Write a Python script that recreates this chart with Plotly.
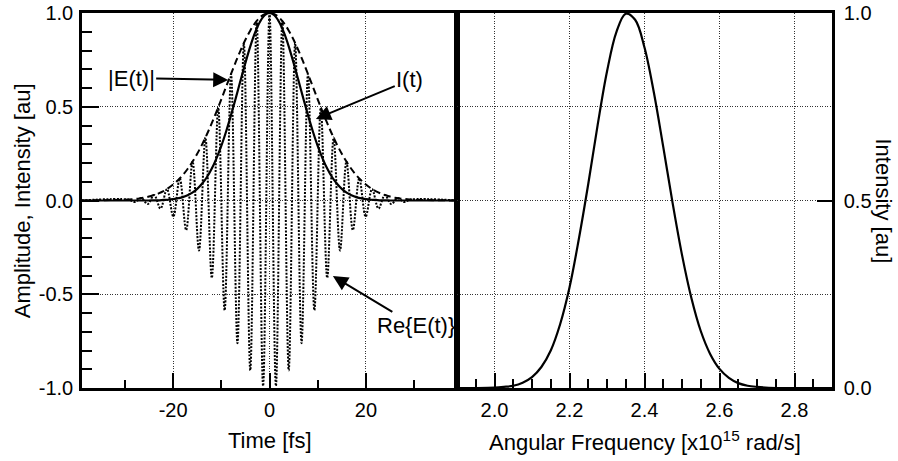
import plotly.graph_objects as go

# ---------------- time domain (left panel) ----------------
# sample times [fs] for the envelope and intensity curves
T_ENV = [-39, -30, -29, -28, -27, -26, -25, -24, -23, -22, -21, -20, -19, -18, -17, -16,
         -15, -14, -13, -12, -11, -10, -9, -8, -7, -6, -5, -4, -3, -2, -1, 0,
         1, 2, 3, 4, 5, 6, 7, 8, 9, 10, 11, 12, 13, 14, 15, 16, 17, 18, 19, 20,
         21, 22, 23, 24, 25, 26, 27, 28, 29, 30, 39]

# field envelope |E(t)|
ENV_ABS = [0.0, 0.004, 0.006, 0.008, 0.011, 0.015, 0.021, 0.029, 0.038, 0.050, 0.066, 0.085,
           0.108, 0.135, 0.168, 0.206, 0.249, 0.298, 0.352, 0.411, 0.474, 0.539, 0.607,
           0.674, 0.739, 0.801, 0.857, 0.906, 0.946, 0.976, 0.994, 1.000,
           0.994, 0.976, 0.946, 0.906, 0.857, 0.801, 0.739, 0.674, 0.607, 0.539, 0.474,
           0.411, 0.352, 0.298, 0.249, 0.206, 0.168, 0.135, 0.108, 0.085, 0.066, 0.050,
           0.038, 0.029, 0.021, 0.015, 0.011, 0.008, 0.006, 0.004, 0.0]

# temporal intensity I(t)
INTENSITY_T = [0.0, 0.0, 0.0, 0.0, 0.0, 0.0, 0.0, 0.001, 0.001, 0.003, 0.004, 0.007,
               0.012, 0.018, 0.028, 0.042, 0.062, 0.089, 0.124, 0.169, 0.225, 0.291, 0.368,
               0.454, 0.546, 0.641, 0.734, 0.821, 0.895, 0.952, 0.988, 1.000,
               0.988, 0.952, 0.895, 0.821, 0.734, 0.641, 0.546, 0.454, 0.368, 0.291, 0.225,
               0.169, 0.124, 0.089, 0.062, 0.042, 0.028, 0.018, 0.012, 0.007, 0.004, 0.003,
               0.001, 0.001, 0.0, 0.0, 0.0, 0.0, 0.0, 0.0, 0.0]

# real part of the field: crests and troughs of the carrier oscillation
T_FIELD = [-39, -29.26, -27.93, -26.60, -25.27, -23.94, -22.61, -21.28, -19.95, -18.62,
           -17.29, -15.96, -14.63, -13.30, -11.97, -10.64, -9.31, -7.98, -6.65, -5.32,
           -3.99, -2.66, -1.33, 0.0, 1.33, 2.66, 3.99, 5.32, 6.65, 7.98, 9.31, 10.64,
           11.97, 13.30, 14.63, 15.96, 17.29, 18.62, 19.95, 21.28, 22.61, 23.94, 25.27,
           26.60, 27.93, 29.26, 39]
RE_FIELD = [0.0, 0.005, -0.008, 0.013, -0.019, 0.029, -0.043, 0.061, -0.086, 0.118,
            -0.158, 0.208, -0.267, 0.336, -0.413, 0.497, -0.586, 0.675, -0.761, 0.840,
            -0.906, 0.957, -0.989, 1.000, -0.989, 0.957, -0.906, 0.840, -0.761, 0.675,
            -0.586, 0.497, -0.413, 0.336, -0.267, 0.208, -0.158, 0.118, -0.086, 0.061,
            -0.043, 0.029, -0.019, 0.013, -0.008, 0.005, 0.0]

# ---------------- frequency domain (right panel) ----------------
OMEGA = [1.90, 1.95, 2.000, 2.025, 2.050, 2.075, 2.100, 2.125, 2.150, 2.175, 2.200, 2.225,
         2.250, 2.275, 2.300, 2.325, 2.350, 2.375, 2.400, 2.425, 2.450, 2.475, 2.500,
         2.525, 2.550, 2.575, 2.600, 2.625, 2.650, 2.675, 2.700, 2.750, 2.90]
SPECTRUM = [0.0, 0.0, 0.001, 0.003, 0.006, 0.014, 0.029, 0.056, 0.100, 0.170, 0.268, 0.398,
            0.544, 0.701, 0.844, 0.949, 0.998, 0.982, 0.908, 0.788, 0.643, 0.493, 0.355,
            0.240, 0.152, 0.091, 0.051, 0.027, 0.013, 0.006, 0.003, 0.0, 0.0]

# ---------------- ticks ----------------
T_TICKS = [-20, 0, 20]
T_TICK_TEXT = ["-20", "0", "20"]
T_MINOR = [-30, -10, 10, 30]
AMP_TICKS = [-1.0, -0.5, 0.0, 0.5, 1.0]
AMP_TICK_TEXT = ["-1.0", "-0.5", "0.0", "0.5", "1.0"]
AMP_MINOR = [-0.9, -0.8, -0.7, -0.6, -0.4, -0.3, -0.2, -0.1,
             0.1, 0.2, 0.3, 0.4, 0.6, 0.7, 0.8, 0.9]
W_TICKS = [2.0, 2.2, 2.4, 2.6, 2.8]
W_TICK_TEXT = ["2.0", "2.2", "2.4", "2.6", "2.8"]
W_MINOR = [1.95, 2.05, 2.1, 2.15, 2.25, 2.3, 2.35, 2.45, 2.5, 2.55,
           2.65, 2.7, 2.75, 2.85]
S_TICKS = [0.0, 0.5, 1.0]
S_TICK_TEXT = ["0.0", "0.5", "1.0"]
S_GRID_EXTRA = [0.25, 0.75]

FONT = "Liberation Sans, Arial, sans-serif"
INK = "black"
GRID = "#333333"
GRID_DASH = "1px,1.5px"

fig = go.Figure()

fig.add_trace(go.Scatter(x=T_FIELD, y=RE_FIELD, mode="lines", xaxis="x", yaxis="y",
                         line=dict(color=INK, width=2, dash="2px,1.5px", shape="spline")))
fig.add_trace(go.Scatter(x=T_ENV, y=ENV_ABS, mode="lines", xaxis="x", yaxis="y",
                         line=dict(color=INK, width=2, dash="7px,4px", shape="spline")))
fig.add_trace(go.Scatter(x=T_ENV, y=INTENSITY_T, mode="lines", xaxis="x", yaxis="y",
                         line=dict(color=INK, width=2.2, shape="spline")))
fig.add_trace(go.Scatter(x=OMEGA, y=SPECTRUM, mode="lines", xaxis="x2", yaxis="y2",
                         line=dict(color=INK, width=2.2, shape="spline")))

common = dict(showline=True, linecolor=INK, linewidth=2.5, mirror=True, zeroline=False,
              ticks="inside", tickcolor=INK, tickwidth=2, automargin=False,
              tickfont=dict(family=FONT, size=20, color=INK),
              gridcolor=GRID, gridwidth=1, griddash=GRID_DASH)

fig.update_layout(
    width=898, height=461,
    margin=dict(l=82, r=66, t=13, b=73, autoexpand=False),
    paper_bgcolor="white", plot_bgcolor="white",
    showlegend=False,
    xaxis=dict(domain=[0, 0.5], anchor="y", range=[-38.9, 38.9],
               tickmode="array", tickvals=T_TICKS, ticktext=T_TICK_TEXT, ticklen=15,
               showgrid=True, ticklabelstandoff=2,
               minor=dict(tickmode="array", tickvals=T_MINOR, ticks="inside", ticklen=8,
                          tickwidth=2, tickcolor=INK, showgrid=False),
               **common),
    yaxis=dict(domain=[0, 1], anchor="x", range=[-1, 1],
               tickmode="array", tickvals=AMP_TICKS, ticktext=AMP_TICK_TEXT, ticklen=17,
               showgrid=True, ticklabelstandoff=2,
               minor=dict(tickmode="array", tickvals=AMP_MINOR, ticks="inside", ticklen=10,
                          tickwidth=2, tickcolor=INK, showgrid=False),
               **common),
    xaxis2=dict(domain=[0.5, 1], anchor="y2", range=[1.9, 2.9],
                tickmode="array", tickvals=W_TICKS, ticktext=W_TICK_TEXT, ticklen=15,
                showgrid=True, ticklabelstandoff=2,
                minor=dict(tickmode="array", tickvals=W_MINOR, ticks="inside", ticklen=9,
                           tickwidth=2, tickcolor=INK, showgrid=False),
                **common),
    yaxis2=dict(domain=[0, 1], anchor="x2", side="right", range=[0, 1],
                tickmode="array", tickvals=S_TICKS, ticktext=S_TICK_TEXT, ticklen=15,
                showgrid=True, ticklabelstandoff=5,
                minor=dict(tickmode="array", tickvals=S_GRID_EXTRA, ticks="",
                           showgrid=True, gridcolor=GRID, gridwidth=1, griddash=GRID_DASH),
                **common),
)

title_font = dict(family=FONT, size=22, color=INK)
annotations = [
    dict(text="Time [fs]", xref="x", x=0, yref="paper", y=-0.141,
         xanchor="center", yanchor="middle", showarrow=False, font=title_font),
    dict(text="Angular Frequency [x10<sup>15</sup> rad/s]", xref="x2", x=2.4,
         yref="paper", y=-0.141, xanchor="center", yanchor="middle",
         showarrow=False, font=title_font),
    dict(text="Amplitude, Intensity [au]", xref="paper", x=-0.079, yref="paper", y=0.5,
         xanchor="center", yanchor="middle", textangle=-90, showarrow=False,
         font=title_font),
    dict(text="Intensity [au]", xref="paper", x=1.068, yref="paper", y=0.5,
         xanchor="center", yanchor="middle", textangle=90, showarrow=False,
         font=title_font),
]
# curve labels with pointer arrows (label placed at the arrow tail)
label_style = dict(showarrow=True, arrowhead=2, arrowsize=1.5, arrowwidth=2,
                   arrowcolor=INK, xref="x", yref="y", axref="x", ayref="y",
                   font=title_font, xanchor="center", yanchor="middle")
annotations += [
    dict(text="|E(t)|", x=-8.57, y=0.643, ax=-28.7, ay=0.653, **label_style),
    dict(text="I(t)", x=9.63, y=0.435, ax=29.1, ay=0.643, **label_style),
    dict(text="Re{E(t)}", x=13.15, y=-0.403, ax=30.3, ay=-0.669, **label_style),
]
fig.update_layout(annotations=annotations)

fig.write_html("out.html")
